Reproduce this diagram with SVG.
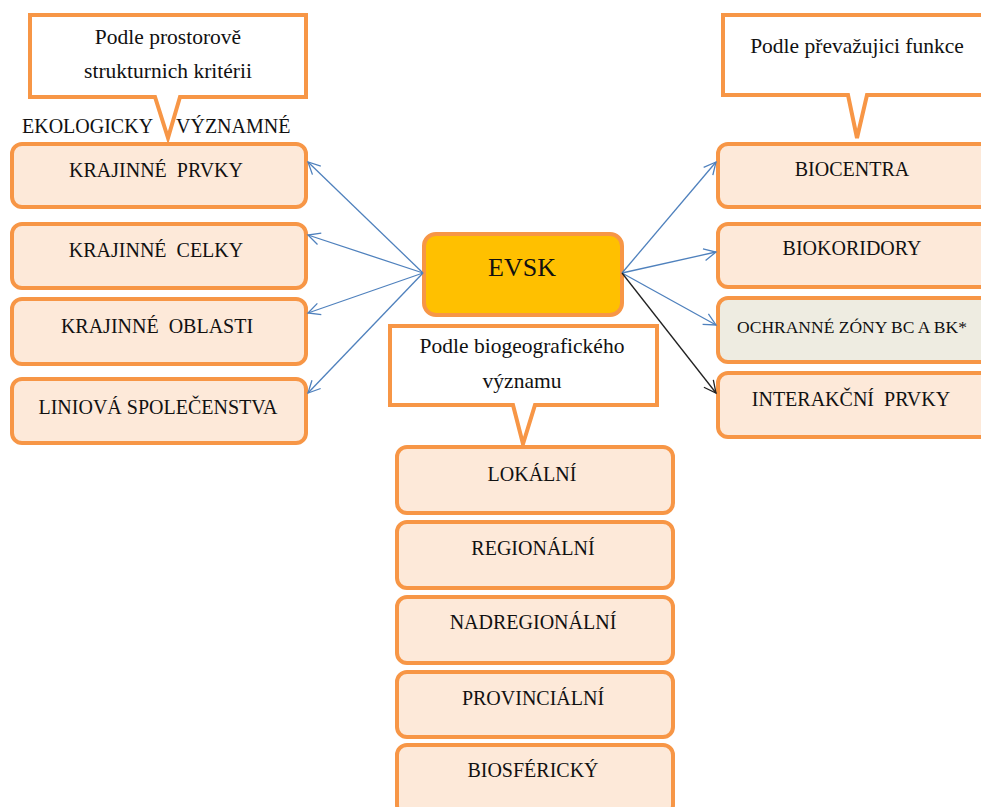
<svg xmlns="http://www.w3.org/2000/svg" width="981" height="807" viewBox="0 0 981 807">
<style>
.box{fill:#FDE9D9;stroke:#F79646;stroke-width:4}
.gray{fill:#EEECE1}
.call{fill:#FFFFFF;stroke:#F79646;stroke-width:4;stroke-linejoin:miter}
.t{font-family:"Liberation Serif","Times New Roman",serif;font-size:20px;fill:#111;text-anchor:middle}
.c{font-family:"Liberation Serif","Times New Roman",serif;font-size:21.5px;fill:#111;text-anchor:middle}
.blue{stroke:#4F81BD;stroke-width:1.3;fill:none}
.black{stroke:#222;stroke-width:1.3;fill:none}
</style>
<defs>
<marker id="ab" markerUnits="userSpaceOnUse" markerWidth="16" markerHeight="16" refX="13" refY="7" orient="auto">
<path d="M1,1 L13,7 L1,13" fill="none" stroke="#4F81BD" stroke-width="1.3"/>
</marker>
<marker id="ak" markerUnits="userSpaceOnUse" markerWidth="16" markerHeight="16" refX="13" refY="7" orient="auto">
<path d="M1,1 L13,7 L1,13" fill="none" stroke="#222" stroke-width="1.3"/>
</marker>
</defs>
<rect width="981" height="807" fill="#FFFFFF"/>

<g id="callout-left">
<path class="call" d="M30,15 H306 V97 H180 L168,138 L155,97 H30 Z"/>
<text class="c" x="168" y="44">Podle prostorově</text>
<text class="c" x="168" y="78">strukturnich kritérii</text>
</g>
<g id="label-ekologicky">
<text class="t" x="22" y="133" style="text-anchor:start">EKOLOGICKY</text>
<text class="t" x="176" y="133" style="text-anchor:start">VÝZNAMNÉ</text>
</g>
<g id="callout-right">
<path class="call" d="M723,15 H995 V95 H867 L857,138 L848,95 H723 Z"/>
<text class="c" x="857" y="53">Podle převažujici funkce</text>
</g>
<g id="callout-bottom">
<path class="call" d="M390,326 H657 V405 H535 L523,444 L513,405 H390 Z"/>
<text class="c" x="522" y="353">Podle biogeografického</text>
<text class="c" x="522" y="388">významu</text>
</g>

<g id="evsk">
<rect x="424" y="234" width="198" height="81" rx="12" fill="#FFC000" stroke="#F79646" stroke-width="4"/>
<text class="t" x="522" y="276" style="font-size:26px">EVSK</text>
</g>

<g id="krajinne-prvky"><rect class="box" x="12" y="144" width="294" height="63" rx="10"/><text class="t" x="156" y="177" xml:space="preserve">KRAJINNÉ  PRVKY</text></g>
<g id="krajinne-celky"><rect class="box" x="12" y="224" width="294" height="64" rx="10"/><text class="t" x="156" y="257" xml:space="preserve">KRAJINNÉ  CELKY</text></g>
<g id="krajinne-oblasti"><rect class="box" x="12" y="299" width="294" height="65" rx="10"/><text class="t" x="157" y="333" xml:space="preserve">KRAJINNÉ  OBLASTI</text></g>
<g id="liniova"><rect class="box" x="12" y="379" width="294" height="64" rx="10"/><text class="t" x="158" y="414">LINIOVÁ SPOLEČENSTVA</text></g>

<g id="biocentra"><rect class="box" x="718" y="144" width="275" height="63" rx="10"/><text class="t" x="852" y="176">BIOCENTRA</text></g>
<g id="biokoridory"><rect class="box" x="718" y="224" width="275" height="63" rx="10"/><text class="t" x="852" y="255">BIOKORIDORY</text></g>
<g id="ochranne"><rect class="box gray" x="718" y="298" width="275" height="64" rx="10"/><text class="t" x="852" y="333" style="font-size:17.5px">OCHRANNÉ ZÓNY BC A BK*</text></g>
<g id="interakcni"><rect class="box" x="718" y="373" width="275" height="64" rx="10"/><text class="t" x="851" y="406" xml:space="preserve">INTERAKČNÍ  PRVKY</text></g>

<g id="lokalni"><rect class="box" x="397" y="447" width="276" height="66" rx="10"/><text class="t" x="532" y="481">LOKÁLNÍ</text></g>
<g id="regionalni"><rect class="box" x="397" y="522" width="276" height="66" rx="10"/><text class="t" x="533" y="555">REGIONÁLNÍ</text></g>
<g id="nadregionalni"><rect class="box" x="397" y="597" width="276" height="66" rx="10"/><text class="t" x="533" y="629">NADREGIONÁLNÍ</text></g>
<g id="provincialni"><rect class="box" x="397" y="672" width="276" height="65" rx="10"/><text class="t" x="533" y="705">PROVINCIÁLNÍ</text></g>
<g id="biosfericky"><rect class="box" x="397" y="745" width="276" height="70" rx="10"/><text class="t" x="533" y="777">BIOSFÉRICKÝ</text></g>

<g id="connectors">
<line class="blue" x1="423" y1="273" x2="308" y2="162" marker-end="url(#ab)"/>
<line class="blue" x1="423" y1="273" x2="308" y2="235" marker-end="url(#ab)"/>
<line class="blue" x1="423" y1="273" x2="308" y2="313" marker-end="url(#ab)"/>
<line class="blue" x1="423" y1="273" x2="308" y2="393" marker-end="url(#ab)"/>
<line class="blue" x1="622" y1="273" x2="716" y2="162" marker-end="url(#ab)"/>
<line class="blue" x1="622" y1="273" x2="716" y2="252" marker-end="url(#ab)"/>
<line class="blue" x1="622" y1="273" x2="716" y2="325" marker-end="url(#ab)"/>
<line class="black" x1="622" y1="273" x2="716" y2="393" marker-end="url(#ak)"/>
</g>
</svg>
